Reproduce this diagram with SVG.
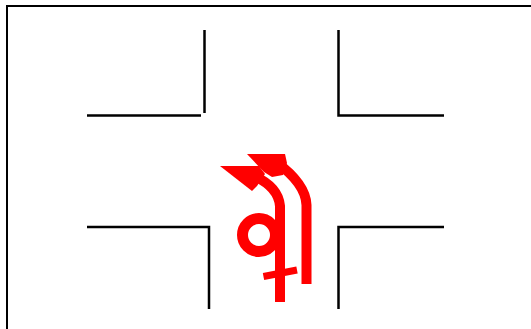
<svg xmlns="http://www.w3.org/2000/svg" width="531" height="329" viewBox="0 0 531 329">
<style>
.road{fill:none;stroke:#000;stroke-width:2.500}
.frame{fill:none;stroke:#000;stroke-width:2}
.mark{fill:none;stroke:#f00}
.head{fill:#f00}
</style>
<rect width="531" height="329" fill="#fff"/>
<path class="frame" d="M7 329V6H531"/>
<g id="roads">
<path class="road" d="M87 115.500H201M204.500 113V30"/>
<path class="road" d="M338.500 30V115.500H444"/>
<path class="road" d="M87 227H209V309"/>
<path class="road" d="M338.500 309V227H444"/>
</g>
<g id="markings">
<path class="mark" stroke-width="10" d="M280 302V206C279 194 272 184 254 176"/>
<path class="mark" stroke-width="10" d="M306.500 284V205C306 192 298 178 276 162"/>
<circle class="mark" stroke-width="11" cx="259" cy="235" r="16.500"/>
<path class="mark" stroke-width="7" d="M263.500 276.500L297 270"/>
<path class="head" d="M220 166H259L265 174L257 186L252 191Z"/>
<path class="head" d="M247 154H285L287 163L283 175L272 177L264 172Z"/>
</g>
</svg>
